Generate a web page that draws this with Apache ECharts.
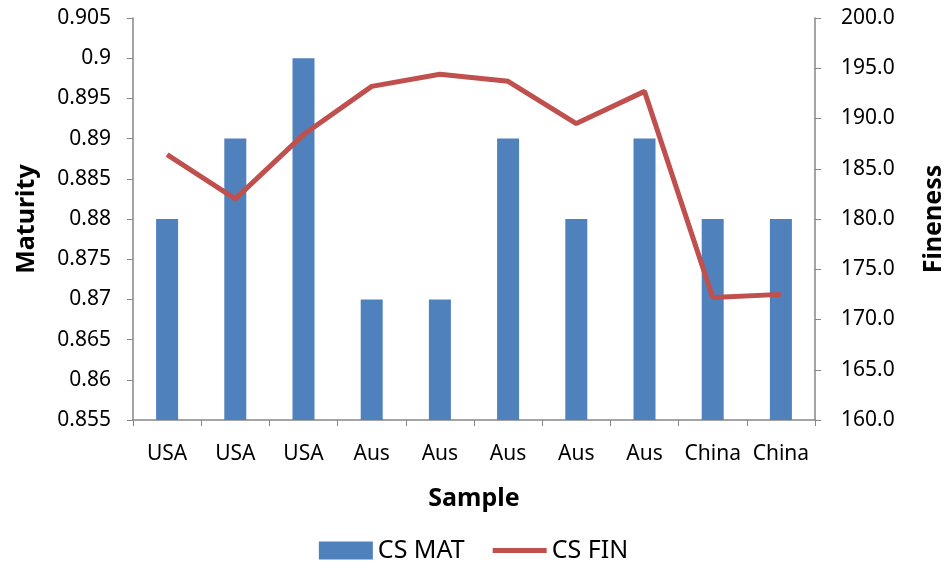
<!DOCTYPE html>
<html>
<head>
<meta charset="utf-8">
<script src="https://cdn.jsdelivr.net/npm/echarts@6/dist/echarts.min.js"></script>
<style>
  html, body { margin: 0; padding: 0; background: #fff; }
  #chart { width: 947px; height: 568px; }
</style>
</head>
<body>
<div id="chart"></div>
<script>
  // data
  var samples = ['USA', 'USA', 'USA', 'Aus', 'Aus', 'Aus', 'Aus', 'Aus', 'China', 'China'];
  var csMat = [0.88, 0.89, 0.90, 0.87, 0.87, 0.89, 0.88, 0.89, 0.88, 0.88];
  var csFin = [186.4, 182.0, 188.4, 193.2, 194.4, 193.7, 189.5, 192.7, 172.2, 172.5];

  var font = 'Noto Sans';
  var axisGray = '#868686';

  var chart = echarts.init(document.getElementById('chart'));
  var option = {
    animation: false,
    textStyle: { fontFamily: font },
    grid: { left: 133, right: 132, top: 18, bottom: 148, outerBoundsMode: 'none' },
    legend: {
      bottom: 0,
      left: 'center',
      itemGap: 28,
      itemWidth: 54,
      itemHeight: 18,
      textStyle: { fontFamily: font, fontSize: 25, color: '#000' },
      data: [
        { name: 'CS MAT', icon: 'rect' },
        { name: 'CS FIN', icon: 'path://M0,0 L54,0 L54,5 L0,5 Z' }
      ]
    },
    xAxis: {
      type: 'category',
      data: samples,
      name: 'Sample',
      nameLocation: 'middle',
      nameGap: 66,
      nameTextStyle: { fontFamily: font, fontSize: 25, fontWeight: 'bold', color: '#000' },
      axisLine: { lineStyle: { color: axisGray, width: 1.5 } },
      axisTick: { show: true, length: 6, lineStyle: { color: axisGray } },
      axisLabel: { fontFamily: font, fontSize: 21, color: '#000', margin: 24, interval: 0 }
    },
    yAxis: [
      {
        type: 'value',
        min: 0.855,
        max: 0.905,
        interval: 0.005,
        name: 'Maturity',
        nameLocation: 'middle',
        nameGap: 94,
        nameTextStyle: { fontFamily: font, fontSize: 25, fontWeight: 'bold', color: '#000' },
        splitLine: { show: false },
        axisLine: { show: true, lineStyle: { color: axisGray, width: 1.5 } },
        axisTick: { show: true, length: 6, lineStyle: { color: axisGray } },
        axisLabel: {
          fontFamily: font, fontSize: 21, color: '#000', margin: 22,
          formatter: function (v) { return String(parseFloat(v.toFixed(3))); }
        }
      },
      {
        type: 'value',
        min: 160,
        max: 200,
        interval: 5,
        name: 'Fineness',
        nameLocation: 'middle',
        nameGap: 106,
        nameTextStyle: { fontFamily: font, fontSize: 25, fontWeight: 'bold', color: '#000' },
        splitLine: { show: false },
        axisLine: { show: true, lineStyle: { color: axisGray, width: 1.5 } },
        axisTick: { show: true, length: 6, lineStyle: { color: axisGray } },
        axisLabel: {
          fontFamily: font, fontSize: 21, color: '#000', margin: 26,
          formatter: function (v) { return v.toFixed(1); }
        }
      }
    ],
    series: [
      {
        name: 'CS MAT',
        type: 'bar',
        yAxisIndex: 0,
        barWidth: 22,
        itemStyle: { color: '#4f81bd' },
        data: csMat
      },
      {
        name: 'CS FIN',
        type: 'line',
        yAxisIndex: 1,
        symbol: 'none',
        lineStyle: { color: '#c0504d', width: 5 },
        itemStyle: { color: '#c0504d' },
        data: csFin
      }
    ]
  };
  chart.setOption(option);
</script>
</body>
</html>
